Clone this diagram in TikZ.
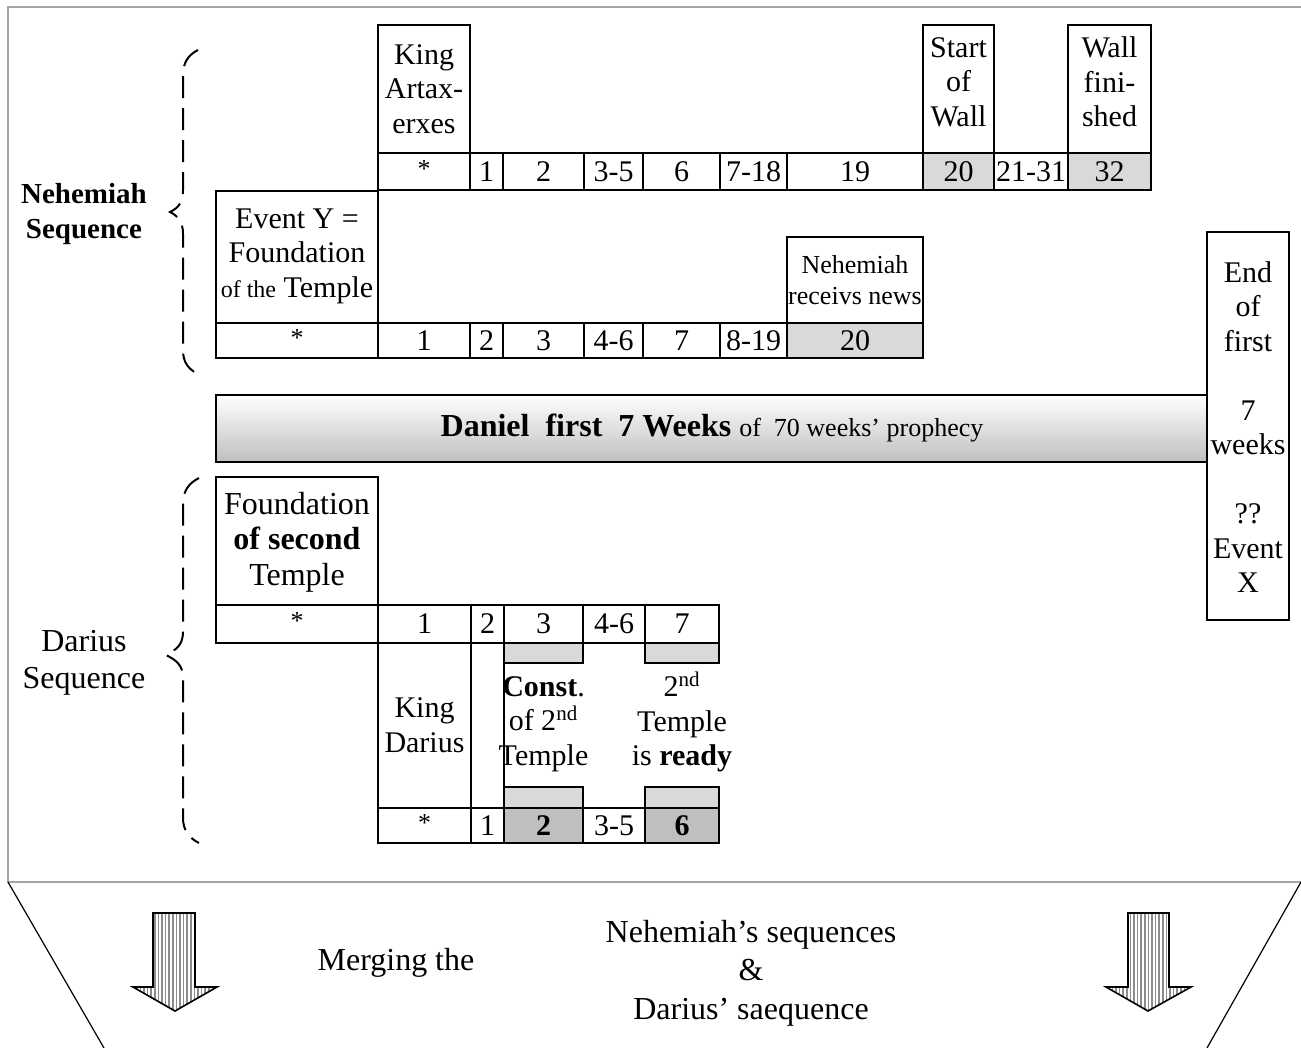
\documentclass[tikz,border=0pt]{standalone}
\usepackage{fontspec}
\setmainfont{Liberation Serif}
\usepackage{tikz}
\usetikzlibrary{positioning,patterns.meta}

\tikzset{
    box/.style={thick},
    txt/.style={align=center, inner sep=0pt, font=\fontsize{15}{17.25}\selectfont},
    num/.style={inner sep=0pt, font=\fontsize{15}{17}\selectfont},
    star/.style={inner sep=0pt, yshift=1.5pt, font=\fontsize{13}{15}\selectfont},
    lightcell/.style={thick, fill=black!15},
    darkcell/.style={thick, fill=black!25},
    brace/.style={line width=1pt, dash pattern=on 11pt off 5pt},
    bigarrow/.style={thick, pattern={Lines[angle=90,distance=1.8pt,line width=0.8pt]}, pattern color=black!45},
}

\begin{document}
\begin{tikzpicture}[x=0.5pt, y=-0.5pt]
    \useasboundingbox (0,0) rectangle (1301,1048);

    % Frame and funnel
    \draw[line width=1pt, black!35] (1301,7) -- (8,7) -- (8,882) -- (1301,882);
    \draw[line width=0.6pt] (8,882) -- (104,1048);
    \draw[line width=0.6pt] (1301,882) -- (1207,1048);

    % Nehemiah sequence, upper row
    \draw[box] (378,25) rectangle (470,153);
    \node[txt] (artax) at (424,89) {King\\Artax-\\erxes};
    \draw[box] (923,25) rectangle (994,153);
    \node[txt] (wallstart) at (958.5,82) {Start\\of\\Wall};
    \draw[box] (1068,25) rectangle (1151,153);
    \node[txt] (wallend) at (1109.5,82) {Wall\\fini-\\shed};

    \draw[box] (378,153) rectangle (470,190);        \node[star] (ua) at (424,172) {*};
    \draw[box] (470,153) rectangle (503,190);        \node[num] (ub) at (486.5,172) {1};
    \draw[box] (503,153) rectangle (584,190);        \node[num] (uc) at (543.5,172) {2};
    \draw[box] (584,153) rectangle (643,190);        \node[num] (ud) at (613.5,172) {3-5};
    \draw[box] (643,153) rectangle (720,190);        \node[num] (ue) at (681.5,172) {6};
    \draw[box] (720,153) rectangle (787,190);        \node[num] (uf) at (753.5,172) {7-18};
    \draw[box] (787,153) rectangle (923,190);        \node[num] (ug) at (855,172) {19};
    \draw[lightcell] (923,153) rectangle (994,190);  \node[num] (uh) at (958.5,172) {20};
    \draw[box] (994,153) rectangle (1068,190);       \node[num] (ui) at (1031,172) {21-31};
    \draw[lightcell] (1068,153) rectangle (1151,190); \node[num] (uj) at (1109.5,172) {32};

    % Nehemiah sequence, lower row
    \draw[box] (216,191) rectangle (378,323);
    \node[txt] (eventy) at (297,256) {Event Y =\\Foundation\\{\fontsize{12}{14}\selectfont of the} Temple};
    \draw[box] (787,237) rectangle (923,323);
    \node[txt, font=\fontsize{13}{15.5}\selectfont] (news) at (855,280) {Nehemiah\\receivs news};

    \draw[box] (216,323) rectangle (378,358);        \node[star] (la) at (297,341) {*};
    \draw[box] (378,323) rectangle (470,358);        \node[num] (lb) at (424,341) {1};
    \draw[box] (470,323) rectangle (503,358);        \node[num] (lc) at (486.5,341) {2};
    \draw[box] (503,323) rectangle (584,358);        \node[num] (ld) at (543.5,341) {3};
    \draw[box] (584,323) rectangle (643,358);        \node[num] (le) at (613.5,341) {4-6};
    \draw[box] (643,323) rectangle (720,358);        \node[num] (lf) at (681.5,341) {7};
    \draw[box] (720,323) rectangle (787,358);        \node[num] (lg) at (753.5,341) {8-19};
    \draw[lightcell] (787,323) rectangle (923,358);  \node[num] (lh) at (855,341) {20};

    % Daniel bar
    \draw[thick, top color=white, bottom color=black!25] (216,395) rectangle (1207,462);
    \node[inner sep=0pt, font=\fontsize{16}{18}\selectfont] (daniel) at (712,428)
        {\textbf{Daniel\ \ first\ \ 7 Weeks} {\fontsize{13}{15}\selectfont of\ \ 70 weeks’ prophecy}};

    % End of first 7 weeks
    \draw[box] (1207,232) rectangle (1289,620);
    \node[txt] (eventx) at (1248,427) {End\\of\\first\\[17.25pt]7\\weeks\\[17.25pt]??\\Event\\X};

    % Darius sequence
    \draw[box] (216,477) rectangle (378,605);
    \node[txt, font=\fontsize{16}{17.75}\selectfont] (found) at (297,542) {Foundation\\\textbf{of second}\\Temple};

    \draw[box] (216,605) rectangle (378,643);        \node[star] (da) at (297,624) {*};
    \draw[box] (378,605) rectangle (471,643);        \node[num] (db) at (424.5,624) {1};
    \draw[box] (471,605) rectangle (504,643);        \node[num] (dc) at (487.5,624) {2};
    \draw[box] (504,605) rectangle (583,643);        \node[num] (dd) at (543.5,624) {3};
    \draw[box] (583,605) rectangle (645,643);        \node[num] (de) at (614,624) {4-6};
    \draw[box] (645,605) rectangle (719,643);        \node[num] (df) at (682,624) {7};

    \draw[box] (378,643) rectangle (471,808);
    \node[txt] (darius) at (424.5,725) {King\\Darius};
    \draw[box] (471,643) rectangle (504,808);
    \draw[lightcell] (504,643) rectangle (583,663);
    \draw[lightcell] (645,643) rectangle (719,663);
    \draw[lightcell] (504,787) rectangle (583,808);
    \draw[lightcell] (645,787) rectangle (719,808);
    \node[txt] (const) at (543.5,724) {\textbf{Const}.\\of 2\textsuperscript{nd}\\Temple};
    \node[txt] (ready) at (682,722) {2\textsuperscript{nd}\\Temple\\is \textbf{ready}};

    \draw[box] (378,808) rectangle (471,843);        \node[star] (ba) at (424.5,826) {*};
    \draw[box] (471,808) rectangle (504,843);        \node[num] (bb) at (487.5,826) {1};
    \draw[darkcell] (504,808) rectangle (583,843);   \node[num] (bc) at (543.5,826) {\textbf{2}};
    \draw[box] (583,808) rectangle (645,843);        \node[num] (bd) at (614,826) {3-5};
    \draw[darkcell] (645,808) rectangle (719,843);   \node[num] (be) at (682,826) {\textbf{6}};

    % Sequence labels and braces
    \node[txt, font=\bfseries\fontsize{14.5}{17.5}\selectfont] (nehseq) at (84,214) {Nehemiah\\Sequence};
    \node[txt, font=\fontsize{16}{18.5}\selectfont] (darseq) at (84,663) {Darius\\Sequence};
    \draw[brace] (198,50) .. controls (188,55) and (183,63) .. (183,75) -- (183,190)
        .. controls (183,203) and (178,208) .. (170,212) .. controls (178,216) and (183,222) .. (183,234)
        -- (183,350) .. controls (183,362) and (188,369) .. (198,374);
    \draw[brace] (199,478) .. controls (189,483) and (183,491) .. (183,503) -- (183,632)
        .. controls (183,645) and (176,650) .. (166,655) .. controls (176,660) and (183,665) .. (183,678)
        -- (183,818) .. controls (183,830) and (189,838) .. (199,843);

    % Merging arrows
    \draw[bigarrow] (153,913) -- (195,913) -- (195,987) -- (217,987) -- (175,1011) -- (133,987) -- (153,987) -- cycle;
    \draw[bigarrow] (1128,913) -- (1169,913) -- (1169,987) -- (1191,987) -- (1148,1011) -- (1106,987) -- (1128,987) -- cycle;
    \node[txt, font=\fontsize{16}{19.25}\selectfont] (merge) at (396,963) {Merging the};
    \node[txt, font=\fontsize{16}{19.25}\selectfont] (merged) at (751,973) {Nehemiah’s sequences\\\&\\Darius’ saequence};
\end{tikzpicture}
\end{document}
